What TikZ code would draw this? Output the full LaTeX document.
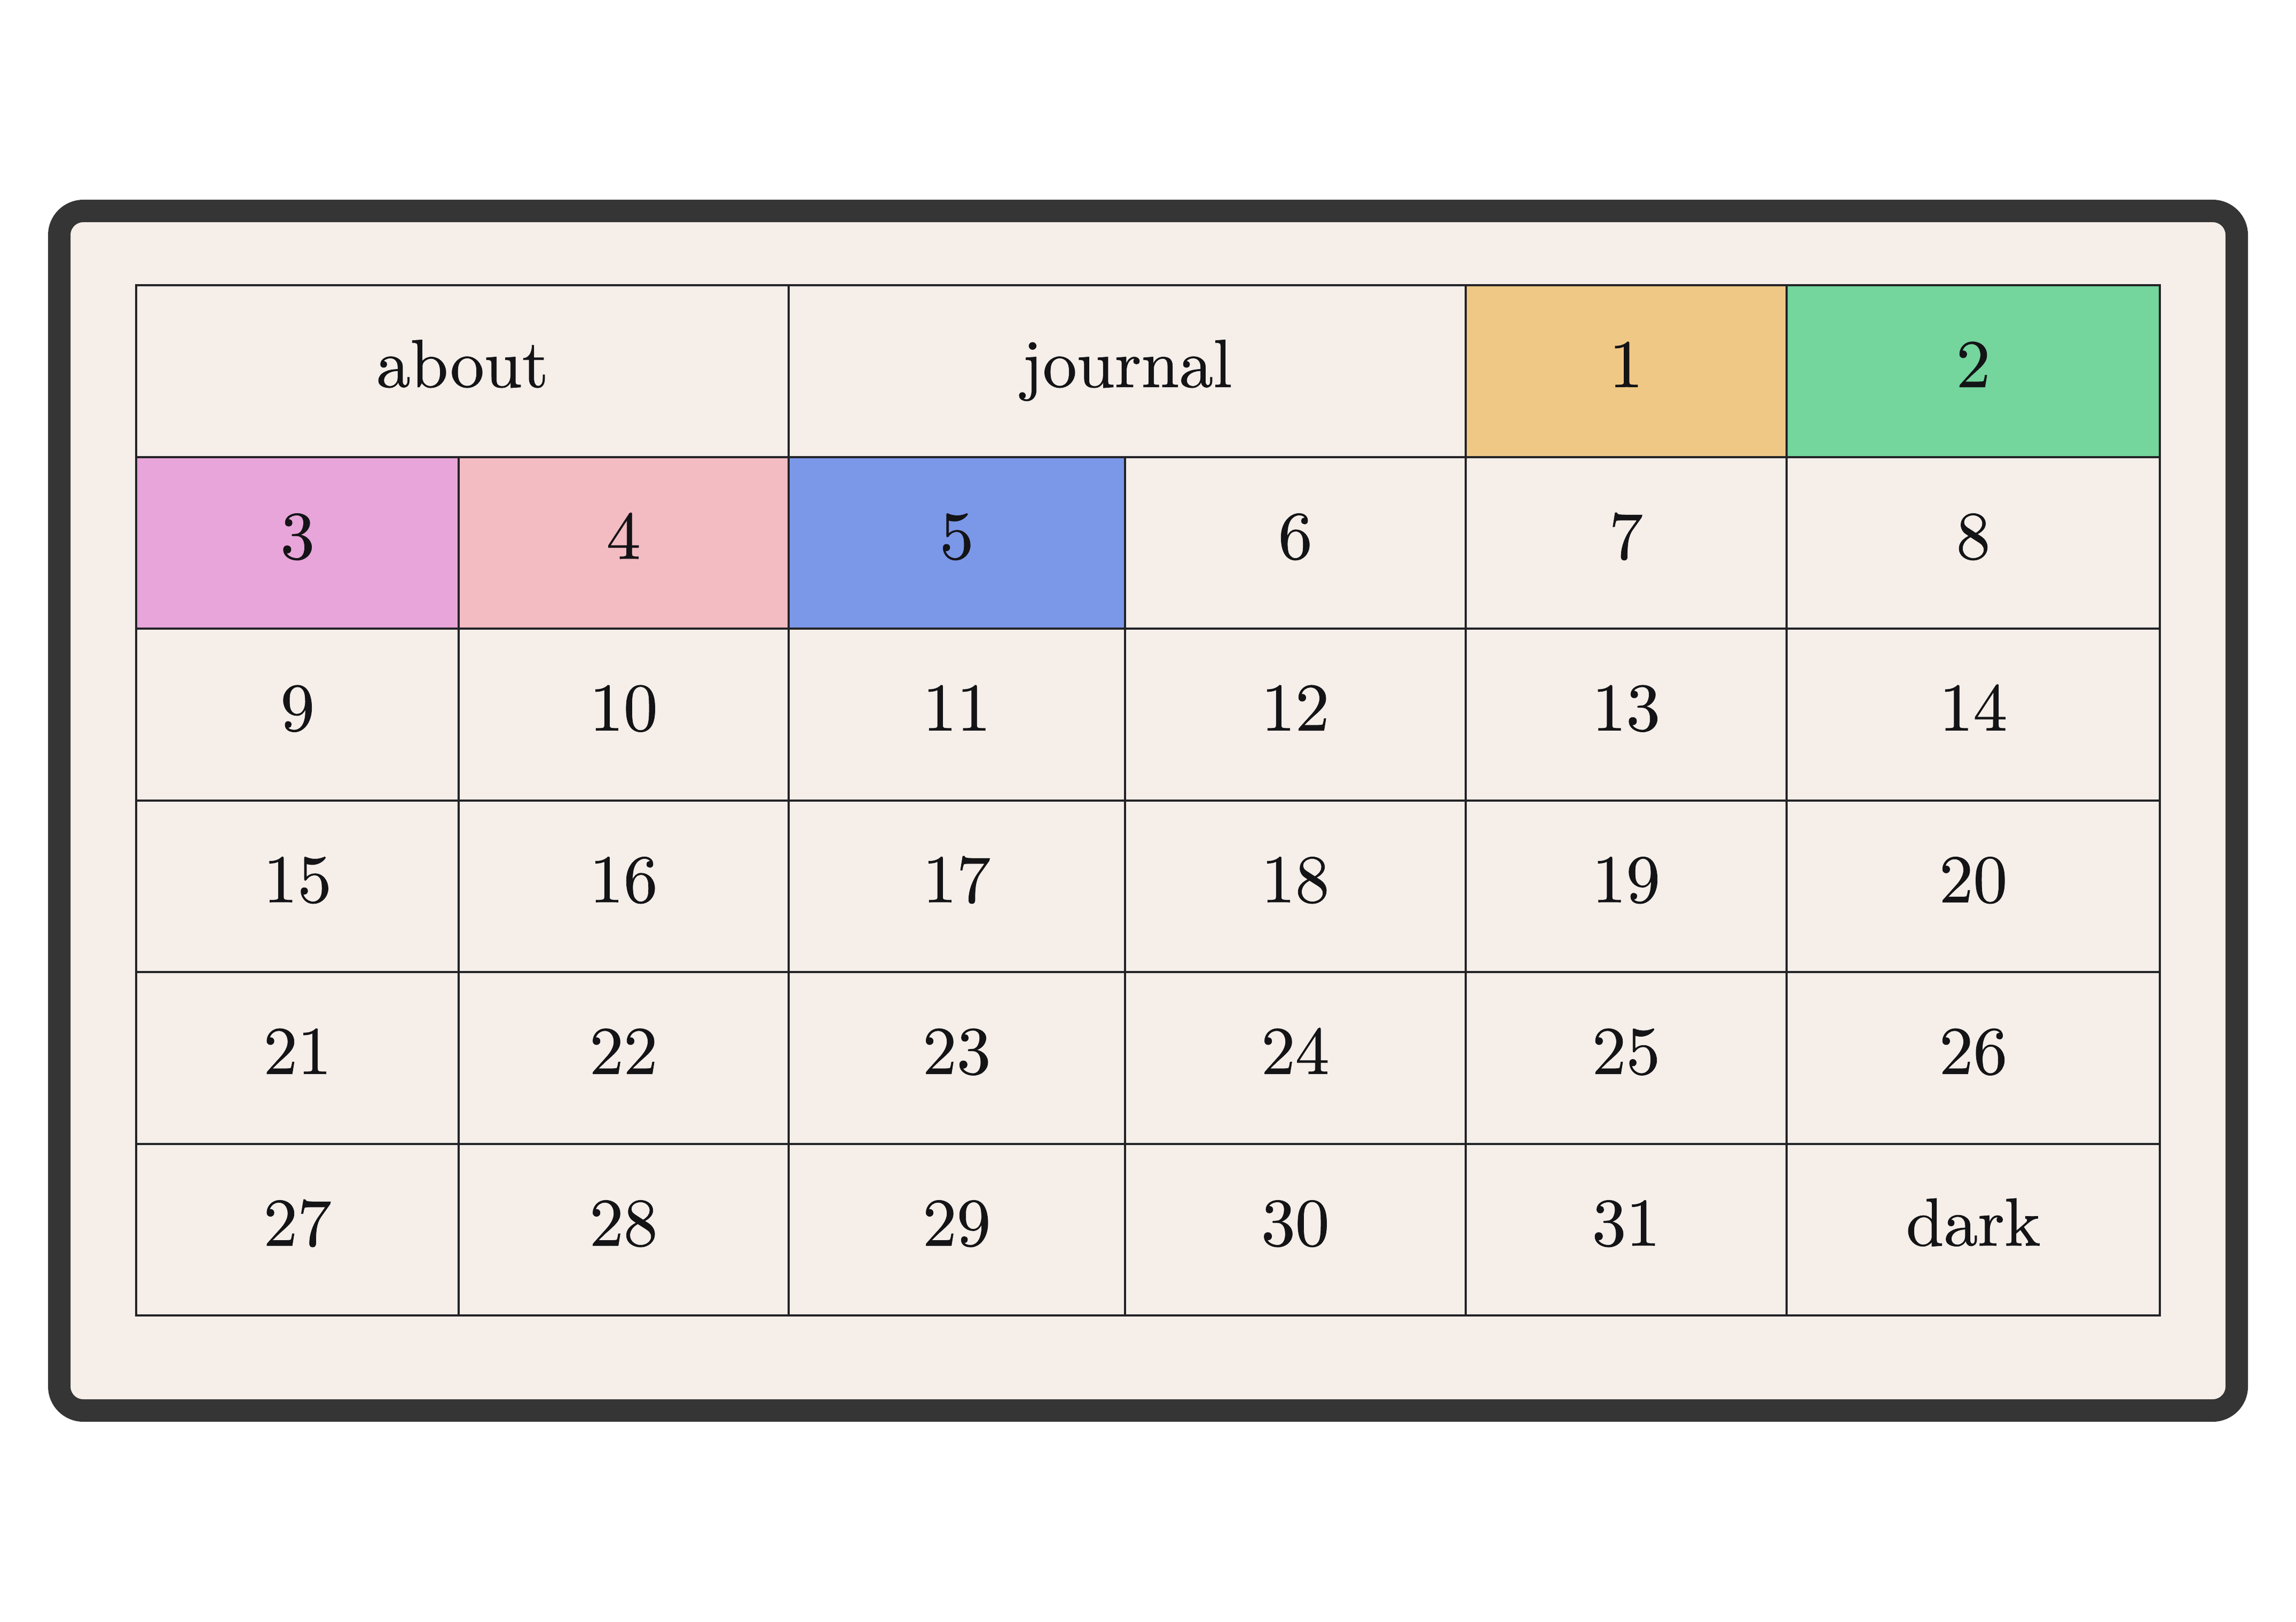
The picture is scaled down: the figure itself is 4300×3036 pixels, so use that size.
\documentclass[tikz,border=0pt]{standalone}
\usepackage{fontspec}
\newfontfamily\cellfont{lmroman10-regular.otf}[FakeBold=0.6]
\definecolor{bgc}{HTML}{F5EEE9}
\definecolor{framec}{HTML}{353535}
\definecolor{linec}{HTML}{232326}
\definecolor{txtc}{HTML}{141417}
\definecolor{orangec}{HTML}{F0C886}
\definecolor{greenc}{HTML}{74D59D}
\definecolor{magc}{HTML}{E7A5D9}
\definecolor{pinkc}{HTML}{F3BBC2}
\definecolor{bluec}{HTML}{7B97E8}
\tikzset{
  cellbox/.style={draw=linec, line width=0.8pt, fill=bgc, rectangle, inner sep=0pt,
    minimum height=64.3pt, text height=12pt, text depth=0pt, text=txtc,
    font=\cellfont\fontsize{25.5pt}{30pt}\selectfont},
  wA/.style={minimum width=120.7pt},
  wB/.style={minimum width=123.54pt},
  wC/.style={minimum width=126.02pt},
  wD/.style={minimum width=127.6pt},
  wE/.style={minimum width=120.24pt},
  wF/.style={minimum width=139.8pt},
}
\begin{document}
\begin{tikzpicture}[x=0.2pt,y=-0.2pt]
\useasboundingbox (0,0) rectangle (4300,3036);
\fill[white] (0,0) rectangle (4300,3036);
% outer frame
\draw[line width=8.4pt, rounded corners=9pt, draw=framec, fill=bgc] (111,395) rectangle (4189,2641);
% row 1
\node[cellbox, minimum width=244.24pt] (about) at (866.1,694.75) {about};
\node[cellbox, minimum width=253.62pt] (journal) at (2110.75,694.75) {journal};
\node[cellbox, wE, fill=orangec] (c1) at (3045.4,694.75) {1};
\node[cellbox, wF, fill=greenc] (c2) at (3695.5,694.75) {2};
% row 2
\node[cellbox, wA, fill=magc] (c3) at (557.25,1016.25) {3};
\node[cellbox, wB, fill=pinkc] (c4) at (1167.85,1016.25) {4};
\node[cellbox, wC, fill=bluec] (c5) at (1791.75,1016.25) {5};
\node[cellbox, wD] (c6) at (2425.8,1016.25) {6};
\node[cellbox, wE] (c7) at (3045.4,1016.25) {7};
\node[cellbox, wF] (c8) at (3695.5,1016.25) {8};
% row 3
\node[cellbox, wA] (c9) at (557.25,1337.75) {9};
\node[cellbox, wB] (c10) at (1167.85,1337.75) {10};
\node[cellbox, wC] (c11) at (1791.75,1337.75) {11};
\node[cellbox, wD] (c12) at (2425.8,1337.75) {12};
\node[cellbox, wE] (c13) at (3045.4,1337.75) {13};
\node[cellbox, wF] (c14) at (3695.5,1337.75) {14};
% row 4
\node[cellbox, wA] (c15) at (557.25,1659.25) {15};
\node[cellbox, wB] (c16) at (1167.85,1659.25) {16};
\node[cellbox, wC] (c17) at (1791.75,1659.25) {17};
\node[cellbox, wD] (c18) at (2425.8,1659.25) {18};
\node[cellbox, wE] (c19) at (3045.4,1659.25) {19};
\node[cellbox, wF] (c20) at (3695.5,1659.25) {20};
% row 5
\node[cellbox, wA] (c21) at (557.25,1980.75) {21};
\node[cellbox, wB] (c22) at (1167.85,1980.75) {22};
\node[cellbox, wC] (c23) at (1791.75,1980.75) {23};
\node[cellbox, wD] (c24) at (2425.8,1980.75) {24};
\node[cellbox, wE] (c25) at (3045.4,1980.75) {25};
\node[cellbox, wF] (c26) at (3695.5,1980.75) {26};
% row 6
\node[cellbox, wA] (c27) at (557.25,2302.25) {27};
\node[cellbox, wB] (c28) at (1167.85,2302.25) {28};
\node[cellbox, wC] (c29) at (1791.75,2302.25) {29};
\node[cellbox, wD] (c30) at (2425.8,2302.25) {30};
\node[cellbox, wE] (c31) at (3045.4,2302.25) {31};
\node[cellbox, wF] (dark) at (3695.5,2302.25) {dark};
\end{tikzpicture}
\end{document}
